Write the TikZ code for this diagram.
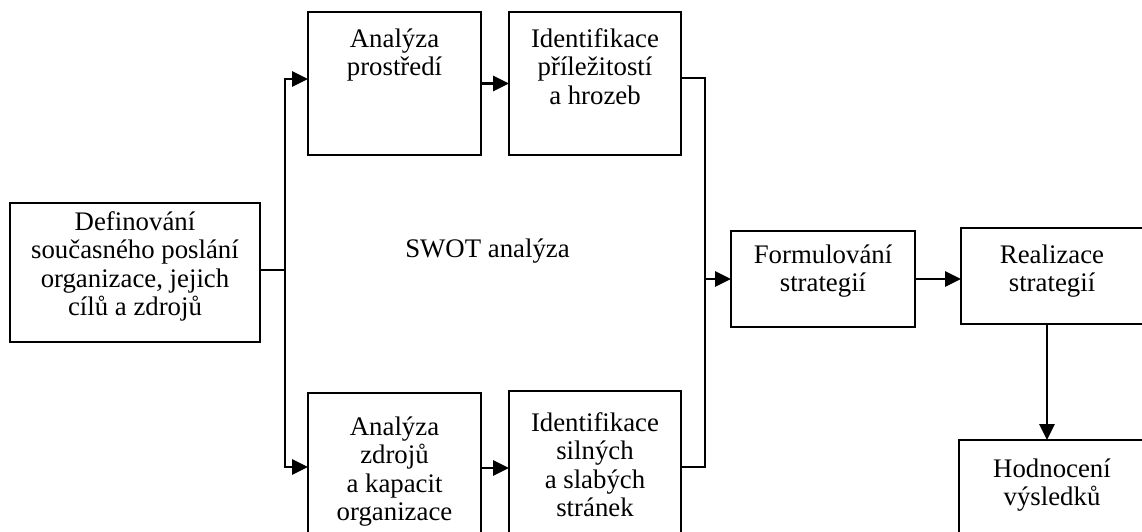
\documentclass[tikz,border=0pt]{standalone}
\usepackage{fontspec}
\setmainfont{Liberation Serif}
\usetikzlibrary{arrows.meta}
\newcommand\firstline{\rule{0pt}{20pt}}
\begin{document}
\begin{tikzpicture}[x=1pt,y=-1pt,
  box/.style={draw,line width=1.8pt,anchor=north west,inner sep=0pt,outer sep=0pt},
  txt/.style={anchor=north,align=center,inner sep=0pt,
    font=\fontsize{26.8}{28.5}\selectfont},
  link/.style={line width=1.8pt},
  arr/.style={line width=2.7pt,-{Triangle[length=16pt,width=15pt]}},
  bold/.style={line width=2.7pt}]
\useasboundingbox (0,0) rectangle (1142,531);
\clip (0,0) rectangle (1142,531);
\fill[white] (0,0) rectangle (1142,531);

% boxes
\node[box,minimum width=250pt,minimum height=139pt] (def) at (10,203) {};
\node[box,minimum width=173pt,minimum height=143pt] (ap) at (308,12) {};
\node[box,minimum width=172pt,minimum height=143pt] (ip) at (509,12) {};
\node[box,minimum width=173pt,minimum height=150pt] (az) at (308,393) {};
\node[box,minimum width=172pt,minimum height=154pt] (is) at (509,391) {};
\node[box,minimum width=184pt,minimum height=96pt] (fs) at (731,231) {};
\node[box,minimum width=200pt,minimum height=96pt] (rs) at (961,228) {};
\node[box,minimum width=200pt,minimum height=120pt] (hv) at (959,440) {};

% texts
\node[txt] (tdef) at (135,210) {\firstline Definování\\současného poslání\\organizace, jejich\\cílů a zdrojů};
\node[txt] (tap) at (394.5,27) {\firstline Analýza\\prostředí};
\node[txt] (tip) at (595,27) {\firstline Identifikace\\příležitostí\\a hrozeb};
\node[txt] (taz) at (394.5,415) {\firstline Analýza\\zdrojů\\a kapacit\\organizace};
\node[txt] (tis) at (595,411) {\firstline Identifikace\\silných\\a slabých\\stránek};
\node[txt] (tswot) at (487.5,237) {\firstline SWOT analýza};
\node[txt] (tfs) at (823,243) {\firstline Formulování\\strategií};
\node[txt] (trs) at (1052,243) {\firstline Realizace\\strategií};
\node[txt] (thv) at (1052,457) {\firstline Hodnocení\\výsledků};

% branching from the first box
\coordinate (jt) at (285,79);
\coordinate (jb) at (285,467);
\draw[link] ([yshift=2.5pt]def.east) -- ([yshift=2.5pt]def.east -| jt);
\draw[bold] (jt) -- (jb);
\draw[arr] ([xshift=-1.3pt]jt) -- (jt -| ap.west);
\draw[arr] ([xshift=-1.3pt]jb) -- (jb -| az.west);

% analysis to identification
\draw[arr] (ap.east) -- (ap.east -| ip.west);
\draw[arr] (az.east) -- (az.east -| is.west);

% merging into strategy formulation
\coordinate (kt) at (705,78);
\coordinate (kb) at (705,467);
\draw[link] (kt -| ip.east) -- (kt) -- (kb) -- (kb -| is.east);
\draw[arr] (fs.west -| kt) -- (fs.west);

% strategy chain
\draw[arr] (fs.east) -- (fs.east -| rs.west);
\coordinate (rx) at (1047,324);
\draw[arr] (rx) -- (rx |- hv.north);
\end{tikzpicture}
\end{document}
